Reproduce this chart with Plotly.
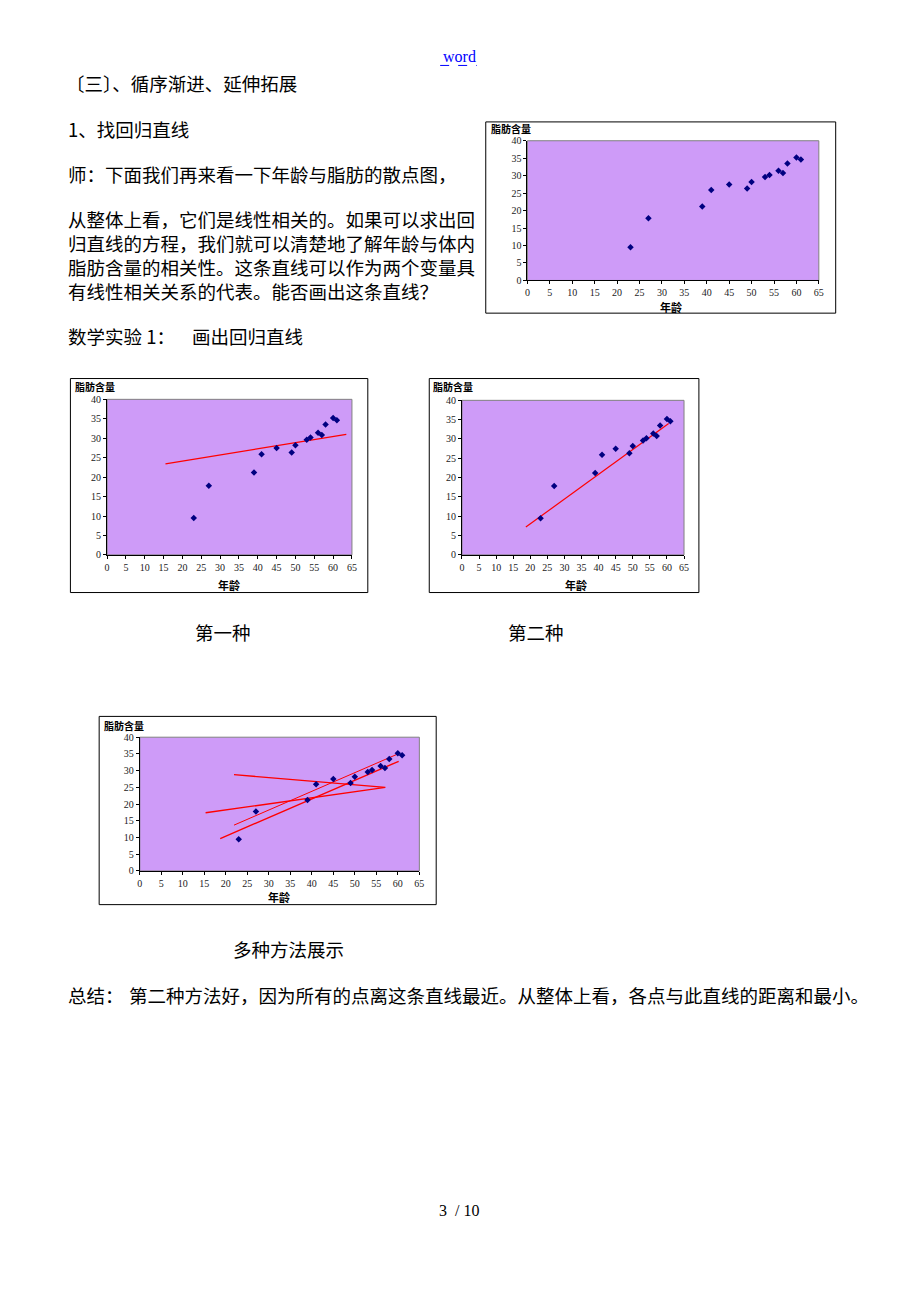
import plotly.graph_objects as go

W, H = 920, 1302

# ---- data ----
ages = [23, 27, 39, 41, 45, 49, 50, 53, 54, 56, 57, 58, 60, 61]
fat = [9.5, 17.8, 21.2, 25.9, 27.5, 26.3, 28.2, 29.6, 30.2, 31.4, 30.8, 33.5, 35.2, 34.6]

line1_x = [15.5, 63.5]
line1_y = [23.4, 31.0]

line2_x = [18.7, 60.5]
line2_y = [7.2, 34.0]

multi_a_x = [21.9, 57.1, 15.3]
multi_a_y = [28.8, 25.0, 17.4]
multi_c_x = [21.9, 60.2]
multi_c_y = [13.7, 35.1]
multi_d_x = [18.7, 60.2]
multi_d_y = [9.7, 32.8]

x_ticks = list(range(0, 70, 5))
y_ticks = list(range(0, 45, 5))

y_title = "脂肪含量"
x_title = "年龄"

# ---- page geometry (pixels) ----
charts = [
    dict(frame=(487, 117, 840, 310), plot=(529, 136, 823, 277), title=(490, 124), xt=(674, 304)),
    dict(frame=(68, 376, 368, 592), plot=(105, 397, 352, 554), title=(71, 384), xt=(228, 584)),
    dict(frame=(430, 376, 702, 592), plot=(463, 398, 687, 554), title=(432, 384), xt=(578, 584)),
    dict(frame=(97, 717, 437, 907), plot=(138, 738, 420, 873), title=(100, 726), xt=(278, 899)),
]

def px(x):
    return x / W

def py(y):
    return 1 - y / H

fig = go.Figure()
layout = dict(width=W, height=H, margin=dict(l=0, r=0, t=0, b=0), autosize=False,
              paper_bgcolor="white", plot_bgcolor="white", showlegend=False)
shapes = []
annotations = []

tickfont = dict(family="Liberation Serif", size=10, color="#222222")
PURPLE = "#CE9BF8"

for i, c in enumerate(charts):
    n = "" if i == 0 else str(i + 1)
    l, t, r, b = c["plot"]
    layout["xaxis" + n] = dict(domain=[px(l), px(r)], range=[0, 65], tickvals=x_ticks,
                               showgrid=False, zeroline=False, showline=True, linecolor="black",
                               linewidth=1, ticks="outside", ticklen=3, tickcolor="black",
                               tickfont=tickfont, anchor="y" + n, fixedrange=True)
    layout["yaxis" + n] = dict(domain=[py(b), py(t)], range=[0, 40], tickvals=y_ticks,
                               showgrid=False, zeroline=False, showline=True, linecolor="black",
                               linewidth=1, ticks="outside", ticklen=3, tickcolor="black",
                               tickfont=tickfont, anchor="x" + n, fixedrange=True)
    shapes.append(dict(type="rect", xref="paper", yref="paper", x0=px(l), x1=px(r), y0=py(b), y1=py(t),
                       fillcolor=PURPLE, line=dict(color="#808080", width=1), layer="below"))
    fl, ft, fr, fb = c["frame"]
    shapes.append(dict(type="rect", xref="paper", yref="paper", x0=px(fl), x1=px(fr), y0=py(fb), y1=py(ft),
                       line=dict(color="black", width=1), fillcolor="rgba(0,0,0,0)"))
    tx, ty = c["title"]
    annotations.append(dict(text="<b>" + y_title + "</b>", x=px(tx), y=py(ty), xref="paper", yref="paper",
                            xanchor="left", yanchor="middle", showarrow=False,
                            font=dict(family="Noto Sans CJK SC", size=10, color="black")))
    xx, xy = c["xt"]
    annotations.append(dict(text="<b>" + x_title + "</b>", x=px(xx), y=py(xy), xref="paper", yref="paper",
                            xanchor="center", yanchor="middle", showarrow=False,
                            font=dict(family="Noto Sans CJK SC", size=11, color="black")))

def xa(i):
    return "x" if i == 0 else "x" + str(i + 1)

def ya(i):
    return "y" if i == 0 else "y" + str(i + 1)

RED = "#FF0000"
fig.add_trace(go.Scatter(x=line1_x, y=line1_y, mode="lines", line=dict(color=RED, width=1.2),
                         xaxis=xa(1), yaxis=ya(1)))
fig.add_trace(go.Scatter(x=line2_x, y=line2_y, mode="lines", line=dict(color=RED, width=1.2),
                         xaxis=xa(2), yaxis=ya(2)))
fig.add_trace(go.Scatter(x=multi_a_x, y=multi_a_y, mode="lines", line=dict(color=RED, width=1.4),
                         xaxis=xa(3), yaxis=ya(3)))
fig.add_trace(go.Scatter(x=multi_c_x, y=multi_c_y, mode="lines", line=dict(color=RED, width=1),
                         xaxis=xa(3), yaxis=ya(3)))
fig.add_trace(go.Scatter(x=multi_d_x, y=multi_d_y, mode="lines", line=dict(color=RED, width=1.4),
                         xaxis=xa(3), yaxis=ya(3)))
for i in range(4):
    fig.add_trace(go.Scatter(x=ages, y=fat, mode="markers",
                             marker=dict(symbol="diamond", size=5, color="#000080"),
                             xaxis=xa(i), yaxis=ya(i)))

# ---- page text ----
CJK = "Noto Sans CJK SC"
body = dict(family=CJK, size=18.5, color="black")

def txt(s, x, y, anchor="left", font=body, yanchor="middle"):
    annotations.append(dict(text=s, x=px(x), y=py(y), xref="paper", yref="paper", xanchor=anchor,
                            yanchor=yanchor, showarrow=False, font=font, align="left"))

txt("word", 460, 51, "center", dict(family="Liberation Serif", size=16, color="#0000FF"))
shapes.append(dict(type="line", xref="paper", yref="paper", x0=px(441), x1=px(478), y0=py(60), y1=py(60),
                   line=dict(color="#0000FF", width=1, dash="dash")))

txt("〔三〕、循序渐进、延伸拓展", 62, 78)
txt("1、找回归直线", 64, 124)
txt("师：下面我们再来看一下年龄与脂肪的散点图，", 64, 170)
txt("从整体上看，它们是线性相关的。如果可以求出回<br>"
    "归直线的方程，我们就可以清楚地了解年龄与体内<br>"
    "脂肪含量的相关性。这条直线可以作为两个变量具<br>"
    "有线性相关关系的代表。能否画出这条直线？", 64, 251)
txt("数学实验 1：", 64, 333)
txt("画出回归直线", 189, 333)
txt("第一种", 222, 632, "center")
txt("第二种", 538, 632, "center")
txt("多种方法展示", 288, 952, "center")
txt("总结：", 64, 998)
txt("第二种方法好，因为所有的点离这条直线最近。从整体上看，各点与此直线的距离和最小。", 125, 998)
txt("3  / 10", 460, 1216, "center", dict(family="Liberation Serif", size=16, color="black"))

layout["shapes"] = shapes
layout["annotations"] = annotations
fig.update_layout(**layout)
fig.write_html("out.html", config={"displayModeBar": False},
               post_script="document.body.style.margin='0';document.body.style.padding='0';")
